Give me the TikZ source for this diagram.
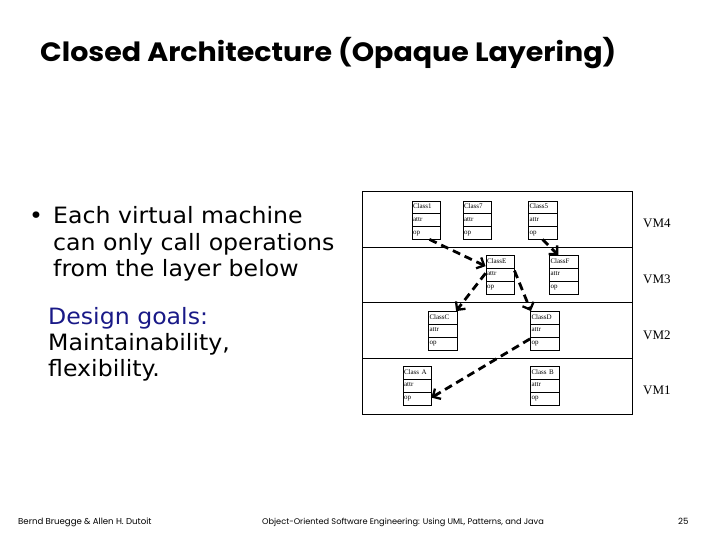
\documentclass[tikz,border=0pt]{standalone}
\usepackage{fontspec}
\setmainfont{Liberation Serif}
\newfontfamily\gothicfont{Poppins}
\newfontfamily\titlefont[FakeStretch=1.075]{Poppins}
\newfontfamily\bodyfont[FakeStretch=1.05]{DejaVu Sans}
\usetikzlibrary{arrows.meta, shapes.multipart, calc}
\definecolor{goalblue}{RGB}{25,25,135}
\tikzset{
  class box/.style={draw, thin, rectangle split, rectangle split parts=3,
    minimum width=28.5pt, text width=26pt, inner xsep=1.2pt, inner ysep=2.6pt,
    font=\fontsize{7}{7.2}\selectfont, align=left},
  call arrow/.style={line width=2.8pt, dash pattern=on 8pt off 5pt,
    -{Straight Barb[length=6pt,width=12pt,line width=2.3pt]}},
  layer line/.style={thin, black},
  vm label/.style={font=\fontsize{13}{13}\selectfont, anchor=west, inner sep=0pt},
  slide text/.style={anchor=base west, inner sep=0pt, align=left,
    font=\bodyfont\fontsize{22.5}{26}\selectfont},
  footer text/.style={anchor=base west, inner sep=0pt, font=\gothicfont\fontsize{8.6}{8.6}\selectfont},
}
% one UML class with name, attr and op compartments
\newcommand{\umlClass}[3]{
  \node[class box] (#1) at (#2) {\strut #3\nodepart{two}\strut attr\nodepart{three}\strut op};
}

\begin{document}
\begin{tikzpicture}[x=1pt, y=-1pt]
  \useasboundingbox (0,0) rectangle (720,540);
  % title
  \node[anchor=base west, inner sep=0pt, font=\titlefont\bfseries\fontsize{26.5}{26.5}\selectfont] (title) at (40,62) {Closed Architecture (Opaque Layering)};
  % left text (base anchor = last line)
  \node[slide text] (bullet) at (29,224) {\textbullet};
  \node[slide text] (calls) at (53,276) {Each virtual machine\\can only call operations\\from the layer below};
  \node[slide text, text=goalblue] (goals) at (48,324) {Design goals:};
  \node[slide text] (goalsList) at (48,376) {Maintainability,\\flexibility.};
  % layers
  \draw[layer line] (362,191) rectangle (632,414);
  \draw[layer line] (362,247) -- (632,247);
  \draw[layer line] (362,302) -- (632,302);
  \draw[layer line] (362,358) -- (632,358);
  \node[vm label] (vm4) at (643,223) {VM4};
  \node[vm label] (vm3) at (643,279) {VM3};
  \node[vm label] (vm2) at (643,335) {VM2};
  \node[vm label] (vm1) at (643,390) {VM1};
  % classes
  \umlClass{class1}{426,220}{Class1}
  \umlClass{class7}{477,220}{Class7}
  \umlClass{class5}{542.5,220}{Class5}
  \umlClass{classE}{500,274.5}{ClassE}
  \umlClass{classF}{563.5,274.5}{ClassF}
  \umlClass{classC}{442.5,330.5}{ClassC}
  \umlClass{classD}{544.5,330.5}{ClassD}
  \umlClass{classA}{417,385.5}{Class A}
  \umlClass{classB}{544.5,385.5}{Class B}
  % calls
  \draw[call arrow] (class1.-80) -- (classE.150);
  \draw[call arrow] (class5.south) -- (classF.105);
  \draw[call arrow] (classE.175) -- (classC.55);
  \draw[call arrow] (classE.15) -- (classD.125);
  \draw[call arrow] (classD.210) -- (classA.-40);
  % footer
  \node[footer text] (authors) at (18,524) {Bernd Bruegge \& Allen H. Dutoit};
  \node[footer text, font=\gothicfont\fontsize{8.2}{8.2}\selectfont] (book) at (262,524) {Object-Oriented Software Engineering: Using UML, Patterns, and Java};
  \node[footer text] (page) at (678,524) {25};
\end{tikzpicture}
\end{document}
